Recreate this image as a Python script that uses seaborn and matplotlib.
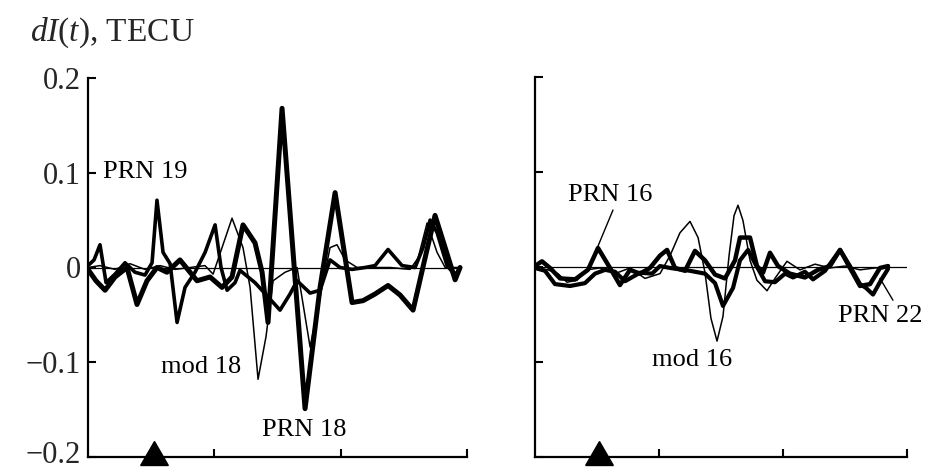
import matplotlib
matplotlib.use("Agg")
import matplotlib.pyplot as plt
import matplotlib.transforms as mtransforms
import seaborn as sns
import pandas as pd

# ---------------- data ----------------
# left panel
x_prn18 = [0, 0.063, 0.135, 0.214, 0.309, 0.388, 0.467, 0.546, 0.625, 0.728, 0.863, 0.966,
           1.061, 1.140, 1.227, 1.322, 1.378, 1.425, 1.536, 1.718, 1.837, 1.956, 2.090, 2.177,
           2.272, 2.375, 2.470, 2.573, 2.668, 2.747, 2.827, 2.906, 2.945]
y_prn18 = [-0.002, -0.014, -0.024, -0.010, 0.0, -0.039, -0.014, 0.0, -0.005, 0.008, -0.014, -0.010,
           -0.021, -0.010, 0.045, 0.026, -0.005, -0.058, 0.168, -0.149, -0.021, 0.079, -0.037, -0.035,
           -0.028, -0.019, -0.029, -0.045, 0.010, 0.055, 0.021, -0.013, 0.0]

x_prn19 = [0, 0.048, 0.095, 0.143, 0.214, 0.293, 0.372, 0.451, 0.507, 0.546, 0.594, 0.650,
           0.705, 0.768, 0.847, 0.927, 1.006, 1.053, 1.101, 1.164, 1.203, 1.322, 1.425, 1.520,
           1.599, 1.655, 1.758, 1.837, 1.916, 1.995, 2.090, 2.193, 2.272, 2.375, 2.486, 2.589,
           2.652, 2.708, 2.763, 2.842, 2.906, 2.945]
y_prn19 = [0.002, 0.008, 0.024, -0.016, -0.007, 0.005, -0.005, -0.008, 0.005, 0.071, 0.016, 0.004,
           -0.058, -0.021, -0.005, 0.016, 0.045, 0.0, -0.024, -0.016, -0.003, -0.016, -0.031, -0.045,
           -0.028, -0.014, -0.027, -0.024, 0.008, 0.0, -0.002, 0.0, 0.002, 0.019, 0.002, 0.0,
           0.021, 0.050, 0.037, 0.002, -0.008, 0.0]

x_mod18 = [0, 0.095, 0.214, 0.333, 0.451, 0.570, 0.689, 0.808, 0.926, 0.990, 1.061, 1.140,
           1.227, 1.283, 1.346, 1.409, 1.465, 1.560, 1.655, 1.758, 1.837, 1.916, 1.971, 2.035,
           2.130, 2.233, 2.391, 2.549, 2.613, 2.684, 2.763, 2.827, 2.945]
y_mod18 = [0, 0.002, -0.002, 0.004, -0.002, 0.002, -0.002, 0, 0.002, -0.007, 0.021, 0.052,
           0.021, -0.021, -0.118, -0.073, -0.014, -0.005, 0, -0.084, -0.031, 0.021, 0.024, 0.008,
           0, 0, 0, -0.002, 0.010, 0.047, 0.016, 0, 0]

# right panel
x_prn16 = [0, 0.056, 0.121, 0.202, 0.323, 0.427, 0.508, 0.605, 0.685, 0.766, 0.847, 0.927,
           1.008, 1.065, 1.129, 1.210, 1.290, 1.371, 1.452, 1.532, 1.613, 1.653, 1.734, 1.790,
           1.839, 1.895, 1.960, 2.056, 2.177, 2.282, 2.379, 2.460, 2.540, 2.621, 2.702, 2.782, 2.847]
y_prn16 = [0.001, 0.006, -0.001, -0.012, -0.013, -0.003, 0.020, -0.001, -0.019, -0.003, -0.007, -0.001,
           0.012, 0.018, -0.001, -0.004, 0.017, 0.007, -0.008, -0.012, 0.007, 0.031, 0.031, 0.001,
           -0.006, 0.015, 0.001, -0.007, -0.011, -0.003, 0.001, 0.018, -0.001, -0.020, -0.018, -0.001, 0.001]

x_prn22 = [0, 0.081, 0.161, 0.282, 0.403, 0.484, 0.565, 0.645, 0.726, 0.847, 0.944, 1.008,
           1.089, 1.250, 1.371, 1.452, 1.516, 1.597, 1.653, 1.718, 1.774, 1.855, 1.935, 2.016,
           2.081, 2.177, 2.242, 2.339, 2.460, 2.540, 2.621, 2.669, 2.726, 2.790, 2.847]
y_prn22 = [-0.001, -0.004, -0.018, -0.020, -0.017, -0.007, -0.003, -0.005, -0.015, -0.006, -0.007, 0.001,
           -0.001, -0.004, -0.007, -0.017, -0.041, -0.022, 0.007, 0.018, 0.004, -0.015, -0.016, -0.007,
           -0.011, -0.005, -0.013, -0.004, 0.018, 0.001, -0.018, -0.022, -0.029, -0.014, -0.002]

x_mod16 = [0, 0.105, 0.185, 0.258, 0.339, 0.419, 0.524, 0.645, 0.766, 0.887, 1.008, 1.089,
           1.169, 1.250, 1.315, 1.371, 1.419, 1.468, 1.516, 1.565, 1.605, 1.637, 1.677, 1.734,
           1.790, 1.871, 1.935, 2.032, 2.137, 2.258, 2.379, 2.500, 2.621, 2.742, 2.847]
y_mod16 = [-0.001, -0.003, -0.007, -0.016, -0.014, -0.003, -0.001, -0.007, -0.001, -0.012, -0.007, 0.012,
           0.036, 0.048, 0.031, -0.006, -0.054, -0.078, -0.052, 0.012, 0.054, 0.065, 0.049, 0.007,
           -0.014, -0.025, -0.012, 0.006, -0.003, 0.003, -0.001, 0.001, -0.003, -0.001, -0.001]

y_ticks = [-0.2, -0.1, 0.0, 0.1, 0.2]
y_tick_labels = ["\u22120.2", "\u22120.1", "0", "0.1", "0.2"]
x_ticks = [1, 2, 3]
event_x = 0.52
left_zero_end = 2.95
right_zero_end = 3.0
title = r"$dI(t)$, TECU"

# ---------------- style ----------------
sns.set_theme(style="white")
plt.rcParams["font.family"] = ["Liberation Serif", "DejaVu Serif"]
plt.rcParams["mathtext.fontset"] = "custom"
plt.rcParams["mathtext.rm"] = "Liberation Serif"
plt.rcParams["mathtext.it"] = "Liberation Serif:italic"

fig = plt.figure(figsize=(9.28, 4.72), dpi=100)
axL = fig.add_axes([88 / 928, 1 - 457 / 472, 379 / 928, 379 / 472])
axR = fig.add_axes([535 / 928, 1 - 457 / 472, 372 / 928, 380 / 472])

def draw(ax, xs, ys, lw):
    sns.lineplot(x=xs, y=ys, ax=ax, color="black", linewidth=lw, sort=False,
                 estimator=None, solid_joinstyle="round", solid_capstyle="round")

for ax, zend in ((axL, left_zero_end), (axR, right_zero_end)):
    ax.plot([0, zend], [0, 0], color="black", lw=0.9)

draw(axL, x_mod18, y_mod18, 1.1)
draw(axL, x_prn19, y_prn19, 2.6)
draw(axL, x_prn18, y_prn18, 3.6)

draw(axR, x_mod16, y_mod16, 1.1)
draw(axR, x_prn22, y_prn22, 3.0)
draw(axR, x_prn16, y_prn16, 3.2)

for ax in (axL, axR):
    ax.set_xlim(0, 3)
    ax.set_ylim(-0.2, 0.2)
    for s in ("top", "right"):
        ax.spines[s].set_visible(False)
    for s in ("left", "bottom"):
        ax.spines[s].set_linewidth(1.6)
        ax.spines[s].set_color("black")
    ax.set_xticks(x_ticks)
    ax.set_xticklabels([])
    ax.set_yticks(y_ticks)
    ax.tick_params(direction="in", length=6, width=1.5, color="black",
                   left=True, bottom=True, top=False, right=False)
    ax.plot([event_x], [-0.2], marker=(3, 0, 0), ms=23, color="black",
            clip_on=False, zorder=10)
    ax.set_xlabel("")
    ax.set_ylabel("")

axL.set_yticklabels(y_tick_labels, fontsize=22)
axL.tick_params(axis="y", pad=5)
axR.set_yticklabels([])
# nudge the lowest tick label up a little so it stays inside the figure
lowest = axL.get_yticklabels()[0]
lowest.set_transform(lowest.get_transform() +
                     mtransforms.ScaledTranslation(0, 5 / 100, fig.dpi_scale_trans))

# labels
lab = dict(fontsize=19, color="black")
axL.text(0.119, 0.101, "PRN 19", ha="left", va="center", **lab)
axL.text(0.895, -0.105, "mod 18", ha="center", va="center", **lab)
axL.text(1.71, -0.171, "PRN 18", ha="center", va="center", **lab)

axR.text(0.605, 0.076, "PRN 16", ha="center", va="center", **lab)
axR.plot([0.629, 0.508], [0.060, 0.022], color="black", lw=1.0)
axR.text(1.266, -0.098, "mod 16", ha="center", va="center", **lab)
axR.text(2.444, -0.052, "PRN 22", ha="left", va="center", clip_on=False, **lab)
axR.plot([2.782, 2.887], [-0.012, -0.035], color="black", lw=1.0)

fig.text(30 / 928, 1 - 33 / 472, title, fontsize=24, ha="left", va="center")

fig.savefig("out.png", dpi=100)
